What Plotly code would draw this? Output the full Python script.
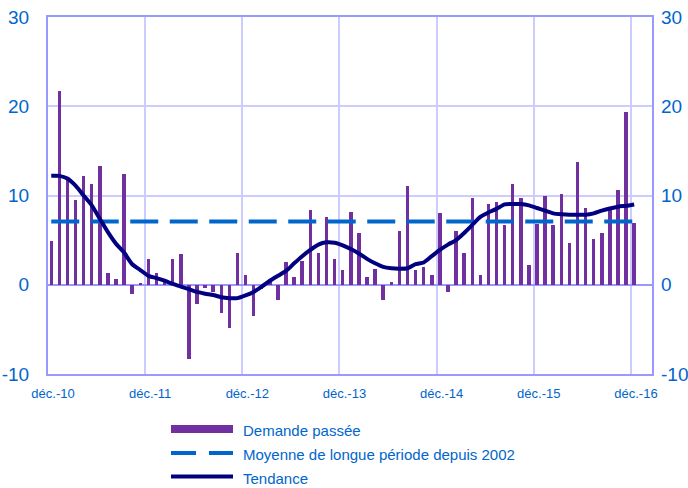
import plotly.graph_objects as go

# ---- data ----
tick_labels = ["déc.-10", "déc.-11", "déc.-12", "déc.-13", "déc.-14", "déc.-15", "déc.-16"]
y_tick_values = [-10, 0, 10, 20, 30]
y_tick_labels = ["-10", "0", "10", "20", "30"]

demande_passee = [
    4.9, 21.7, 11.9, 9.55, 12.2, 11.3, 13.3, 1.35, 0.67, 12.4,
    -1.05, 0.22, 2.9, 1.35, 0.5, 2.9, 3.4, -8.35, -2.2, -0.4,
    -0.86, -3.2, -4.8, 3.6, 1.1, -3.5, -0.5, 0.4, -1.7, 2.5,
    0.9, 2.7, 8.4, 3.6, 7.6, 2.9, 1.6, 8.2, 5.8, 0.9,
    1.8, -1.7, 0.26, 6.0, 11.1, 1.6, 2.0, 1.1, 8.0, -0.8,
    6.0, 3.6, 9.7, 1.1, 9.1, 9.3, 6.7, 11.3, 9.7, 2.25,
    6.85, 10.0, 6.7, 10.2, 4.7, 13.7, 8.65, 5.1, 5.8, 8.65,
    10.6, 19.4, 6.9,
]

tendance = [
    12.2, 12.2, 11.9, 11.1, 10.0, 8.9, 7.4, 5.9, 4.6, 3.6,
    2.3, 1.65, 1.0, 0.75, 0.45, 0.1, -0.2, -0.5, -0.8, -1.0,
    -1.15, -1.4, -1.5, -1.5, -1.2, -0.8, -0.2, 0.45, 1.0, 1.55,
    2.4, 3.2, 3.9, 4.5, 4.75, 4.7, 4.4, 4.0, 3.5, 2.9,
    2.4, 2.0, 1.85, 1.8, 1.85, 2.3, 2.5, 3.2, 3.9, 4.5,
    5.0, 5.8, 6.7, 7.6, 8.1, 8.5, 9.0, 9.05, 9.05, 8.9,
    8.6, 8.3, 8.0, 7.9, 7.85, 7.85, 7.85, 8.0, 8.3, 8.55,
    8.75, 8.85, 9.0,
]

moyenne_longue_periode = 7.1

# ---- layout / style ----
BLUE = "#0066CC"
PURPLE = "#7030A0"
NAVY = "#000080"
AXIS = "#9999FF"
GRID = "#CCCCFF"
FONT = "Liberation Sans, Arial, sans-serif"

n = len(demande_passee)
offset = 0.4
x = [i + offset for i in range(n)]
moyenne = [moyenne_longue_periode] * n
tickvals = [12 * k for k in range(len(tick_labels))]

fig = go.Figure()
fig.add_trace(go.Bar(x=x, y=demande_passee, width=0.43, marker=dict(color=PURPLE, line=dict(width=0)),
                     name="Demande passée", showlegend=False))
fig.add_trace(go.Scatter(x=x, y=moyenne, mode="lines", line=dict(color=BLUE, width=4, dash="28px,11.5px"),
                         name="Moyenne de longue période depuis 2002", showlegend=False))
fig.add_trace(go.Scatter(x=x, y=tendance, mode="lines",
                         line=dict(color=NAVY, width=4, shape="spline", smoothing=0.6),
                         name="Tendance", showlegend=False))
# invisible trace for right axis labels
fig.add_trace(go.Scatter(x=[x[0]], y=[None], yaxis="y2", showlegend=False, hoverinfo="skip"))

fig.update_layout(
    width=688, height=488,
    margin=dict(l=48, r=36, t=17, b=114, autoexpand=False),
    paper_bgcolor="white", plot_bgcolor="white",
    font=dict(family=FONT, color=BLUE),
    bargap=0,
    xaxis=dict(
        range=[0, 74.6], tickvals=tickvals, ticktext=tick_labels, automargin=False,
        showgrid=True, gridcolor=GRID, gridwidth=2,
        showline=True, linecolor=AXIS, linewidth=2, mirror=True,
        zeroline=False, ticks="", tickfont=dict(size=13, color=BLUE),
        ticklabelshift=5, ticklabelstandoff=6, ticklabeloverflow="allow",
    ),
    yaxis=dict(
        range=[-10, 30], tickvals=y_tick_values, ticktext=y_tick_labels, automargin=False,
        showgrid=True, gridcolor=GRID, gridwidth=2,
        showline=True, linecolor=AXIS, linewidth=2, mirror=True,
        zeroline=True, zerolinecolor=AXIS, zerolinewidth=2,
        ticks="", tickfont=dict(size=19, color=BLUE), ticklabelstandoff=13,
        ticklabeloverflow="allow",
    ),
    yaxis2=dict(
        range=[-10, 30], tickvals=y_tick_values, ticktext=y_tick_labels, automargin=False,
        overlaying="y", side="right",
        showgrid=False, zeroline=False, showline=False,
        ticks="", tickfont=dict(size=19, color=BLUE), ticklabelstandoff=8,
        ticklabeloverflow="allow",
    ),
)

# ---- manual legend (page pixel positions converted to paper coords) ----
px_w, px_h = 604.0, 357.0
def px(xp):
    return (xp - 48) / px_w
def py(yp):
    return (374 - yp) / px_h

legend_items = [
    ("Demande passée", dict(color=PURPLE, width=8), 429),
    ("Moyenne de longue période depuis 2002", dict(color=BLUE, width=4, dash="25px,13px"), 453),
    ("Tendance", dict(color=NAVY, width=4), 476.5),
]
for label, line, yy in legend_items:
    fig.add_shape(type="line", xref="paper", yref="paper", x0=px(171), x1=px(233),
                  y0=py(yy), y1=py(yy), line=line)
    fig.add_annotation(text=label, xref="paper", yref="paper", x=px(241), y=py(yy + 1.5),
                       xanchor="left", yanchor="middle", showarrow=False,
                       font=dict(size=15, color=BLUE, family=FONT))

fig.write_html(
    "out.html",
    config={"displayModeBar": False},
    post_script="document.body.style.margin='0px';document.body.style.overflow='hidden';",
)
